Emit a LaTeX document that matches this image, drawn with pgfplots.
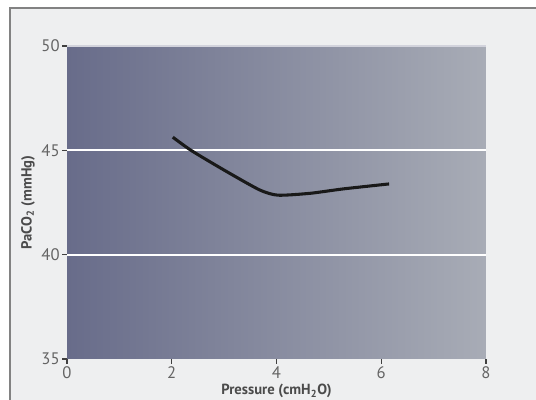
\documentclass[border=0pt]{standalone}
\usepackage{fontspec}
\setmainfont{PT Sans}
\usepackage{pgfplots}
\pgfplotsset{compat=1.18}
\definecolor{bgl}{RGB}{104,108,138}
\definecolor{bgr}{RGB}{168,172,182}
\definecolor{framebg}{RGB}{238,239,240}
\definecolor{framecol}{RGB}{130,130,130}
\definecolor{ticklab}{RGB}{100,100,100}
\definecolor{labcol}{RGB}{75,75,75}
\begin{document}
\begin{tikzpicture}
\path[use as bounding box] (0pt,0pt) rectangle (402pt,300pt);
\fill[white] (0pt,0pt) rectangle (402pt,300pt);
\fill[framebg] (7.5pt,0pt) rectangle (402pt,294pt);
\draw[framecol, line width=1.3pt] (7.5pt,0pt) -- (7.5pt,294pt) -- (402pt,294pt);
\begin{axis}[
  at={(50.25pt,30.75pt)}, anchor=south west,
  scale only axis, width=314.25pt, height=234.75pt,
  xmin=0, xmax=8, ymin=35, ymax=50,
  xtick={0,2,4,6,8}, ytick={35,40,45,50},
  axis line style={draw=none},
  axis background/.style={left color=bgl, right color=bgr},
  tick align=outside, major tick length=3.5pt,
  tick style={black!75, line width=1pt},
  xtick pos=bottom, ytick pos=left,
  /pgf/number format/assume math mode=true,
  ticklabel style={font=\fontsize{12.5}{14}\selectfont, text=ticklab},
  yticklabel style={xshift=1.5pt},
  xticklabel style={yshift=1.5pt},
  xlabel={\textbf{Pressure (cmH\textsubscript{2}O)}},
  ylabel={\textbf{PaCO\textsubscript{2} (mmHg)}},
  label style={font=\fontsize{11}{13}\selectfont, text=labcol},
  xlabel style={at={(axis description cs:0.5,-0.103)}, anchor=center},
  ylabel style={at={(axis description cs:-0.093,0.5)}, anchor=center},
  clip=false,
]
\draw[white, line width=1.4pt] (axis cs:0,45) -- (axis cs:8,45);
\draw[white, line width=1.4pt] (axis cs:0,40) -- (axis cs:8,40);
\draw[white!70!bgl, line width=0.8pt] (axis cs:0,50) -- (axis cs:8,50);
\addplot[black!90, line width=2.3pt, smooth, tension=0.4] coordinates {
(2.02,45.63) (2.38,44.98) (3.05,43.98) (3.68,43.10) (4.03,42.85) (4.64,42.94) (5.27,43.15) (6.15,43.39)
};
\end{axis}
\end{tikzpicture}
\end{document}
